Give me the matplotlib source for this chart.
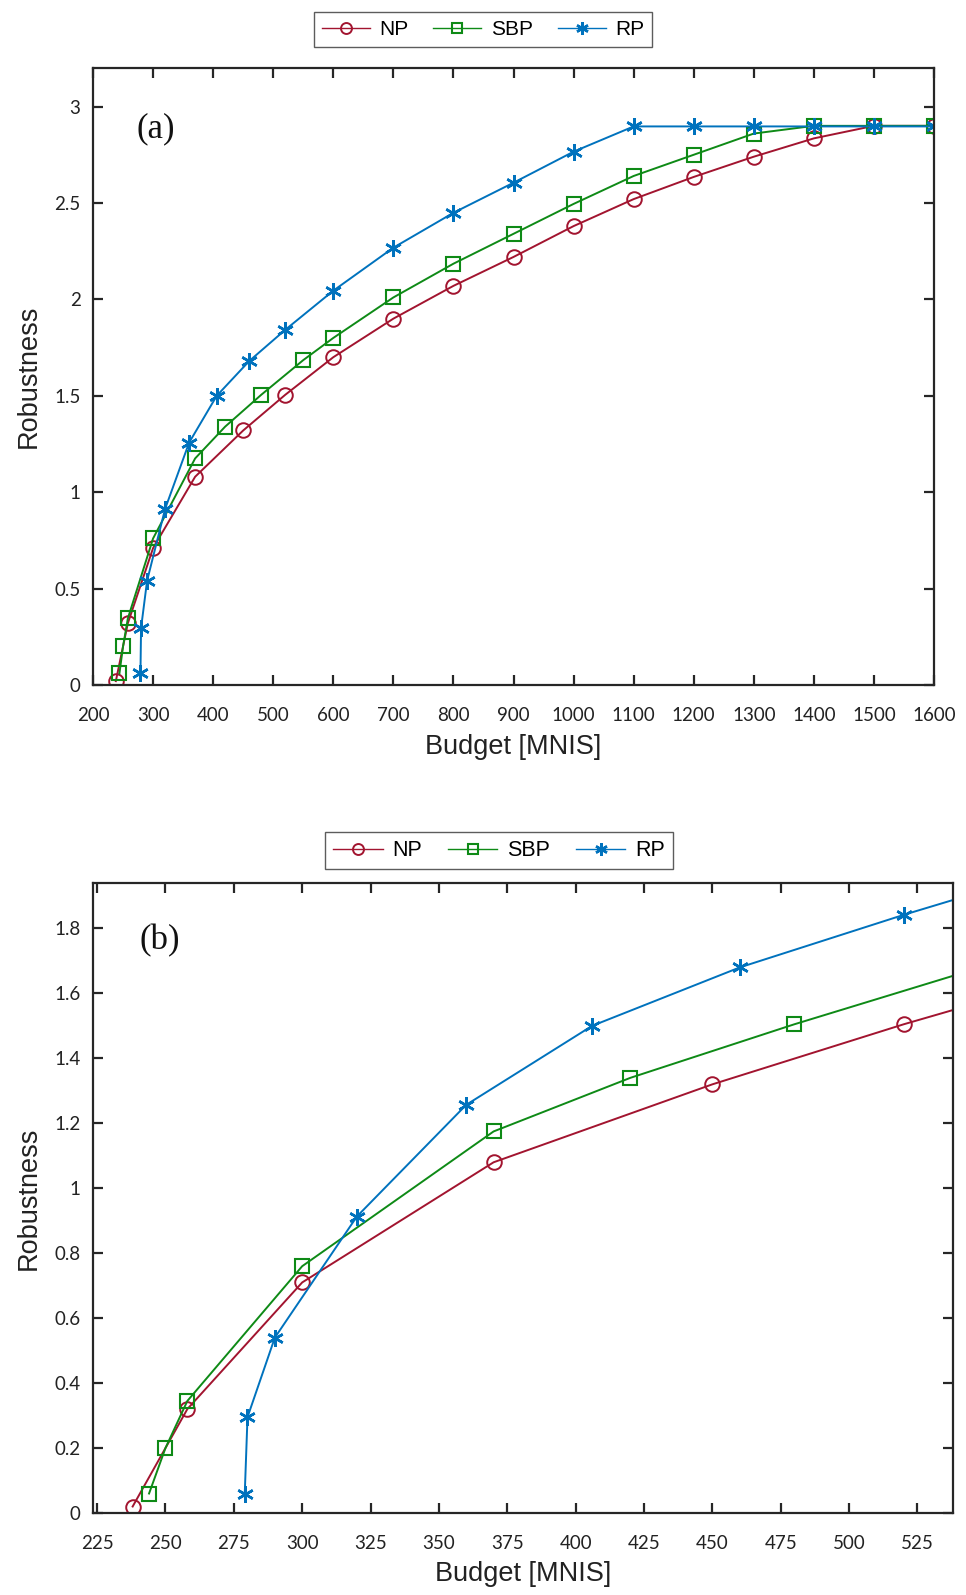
import matplotlib
matplotlib.use("Agg")
import matplotlib.pyplot as plt
from matplotlib.ticker import FuncFormatter

# ---------------- data ----------------
np_x = [238, 258, 300, 370, 450, 520, 600, 700, 800, 900, 1000, 1100, 1200, 1300, 1400, 1500, 1600]
np_y = [0.02, 0.32, 0.71, 1.08, 1.32, 1.505, 1.70, 1.90, 2.07, 2.22, 2.38, 2.52, 2.635, 2.74, 2.835, 2.9, 2.9]

sbp_x = [244, 250, 258, 300, 370, 420, 480, 550, 600, 700, 800, 900, 1000, 1100, 1200, 1300, 1400, 1500, 1600]
sbp_y = [0.06, 0.20, 0.345, 0.76, 1.175, 1.34, 1.505, 1.685, 1.80, 2.01, 2.185, 2.34, 2.495, 2.64, 2.75, 2.86, 2.9, 2.9, 2.9]

rp_x = [279, 280, 290, 320, 360, 406, 460, 520, 600, 700, 800, 900, 1000, 1100, 1200, 1300, 1400, 1500, 1600]
rp_y = [0.06, 0.295, 0.54, 0.913, 1.257, 1.50, 1.68, 1.842, 2.045, 2.268, 2.449, 2.605, 2.766, 2.897, 2.897, 2.897, 2.897, 2.897, 2.897]

series_names = ["NP", "SBP", "RP"]
xticks_a = list(range(200, 1601, 100))
yticks_a = [0, 0.5, 1, 1.5, 2, 2.5, 3]
xticks_b = list(range(225, 526, 25))
yticks_b = [0, 0.2, 0.4, 0.6, 0.8, 1.0, 1.2, 1.4, 1.6, 1.8]

# ---------------- style ----------------
c_np = "#A2142F"
c_sbp = "#0E8A16"
c_rp = "#0072BD"
spine_c = "#262626"
tick_font = "Lato"
label_font = ["Liberation Sans", "DejaVu Sans"]

fig = plt.figure(figsize=(9.66, 15.95), dpi=100)

def fmt(v, pos):
    s = ("%.1f" % v).rstrip("0").rstrip(".")
    return s

def style_axes(ax, xt, yt, xlim, ylim, tag, tag_xy, xlabpad):
    ax.set_xlim(*xlim)
    ax.set_ylim(*ylim)
    ax.set_xticks(xt)
    ax.set_yticks(yt)
    ax.yaxis.set_major_formatter(FuncFormatter(fmt))
    ax.tick_params(direction="in", length=7, width=1.6, color=spine_c,
                   top=True, right=True, labelsize=13.5)
    ax.tick_params(axis="x", pad=16)
    ax.tick_params(axis="y", pad=9)
    for lab in ax.get_xticklabels() + ax.get_yticklabels():
        lab.set_fontfamily(tick_font)
        lab.set_color("#222222")
    for sp in ax.spines.values():
        sp.set_linewidth(1.6)
        sp.set_color(spine_c)
    ax.set_xlabel("Budget [MNIS]", fontsize=19.5, family=label_font, labelpad=xlabpad, color="#222222")
    ax.set_ylabel("Robustness", fontsize=19.5, family=label_font, labelpad=9, color="#222222")
    ax.text(tag_xy[0], tag_xy[1], tag, transform=ax.transAxes, fontsize=25,
            family=["Liberation Serif", "DejaVu Serif"], va="center", ha="left", color="#111111")

def draw(ax):
    l1, = ax.plot(np_x, np_y, color=c_np, lw=1.4, marker="o", ms=10.5, mfc="none", mew=1.4, label=series_names[0])
    l2, = ax.plot(sbp_x, sbp_y, color=c_sbp, lw=1.4, marker="s", ms=9.5, mfc="none", mew=1.5, label=series_names[1])
    l3, = ax.plot(rp_x, rp_y, color=c_rp, lw=1.4, marker=(6, 2, 0), ms=12, mew=1.8, label=series_names[2])
    return [l1, l2, l3]

W, H = 966.0, 1595.0
# panel (a)
ax1 = fig.add_axes([93 / W, 1 - 685 / H, (934 - 93) / W, (685 - 68) / H])
h = draw(ax1)
style_axes(ax1, xticks_a, yticks_a, (200, 1600), (0, 3.2), "(a)", (0.052, 0.902), 7)

# panel (b)
ax2 = fig.add_axes([93 / W, 1 - 1513 / H, (953 - 93) / W, (1513 - 883) / H])
draw(ax2)
style_axes(ax2, xticks_b, yticks_b, (223.5, 538), (0, 1.94), "(b)", (0.054, 0.908), 6)

for (cx, top, fs) in [(483, 12, 15), (499, 832, 15.5)]:
    leg = fig.legend(handles=h, loc="upper center", bbox_to_anchor=(cx / W, 1 - top / H),
                     ncol=3, frameon=True, fancybox=False, edgecolor="#333333",
                     handlelength=2.3, columnspacing=1.2, handletextpad=0.45,
                     borderpad=0.38, borderaxespad=0.0,
                     prop={"family": label_font, "size": fs},
                     markerscale=0.75)
    leg.get_frame().set_linewidth(1.0)
    for ln in leg.get_lines():
        ln.set_linewidth(1.0)

fig.savefig("out.png", dpi=100, facecolor="white")
